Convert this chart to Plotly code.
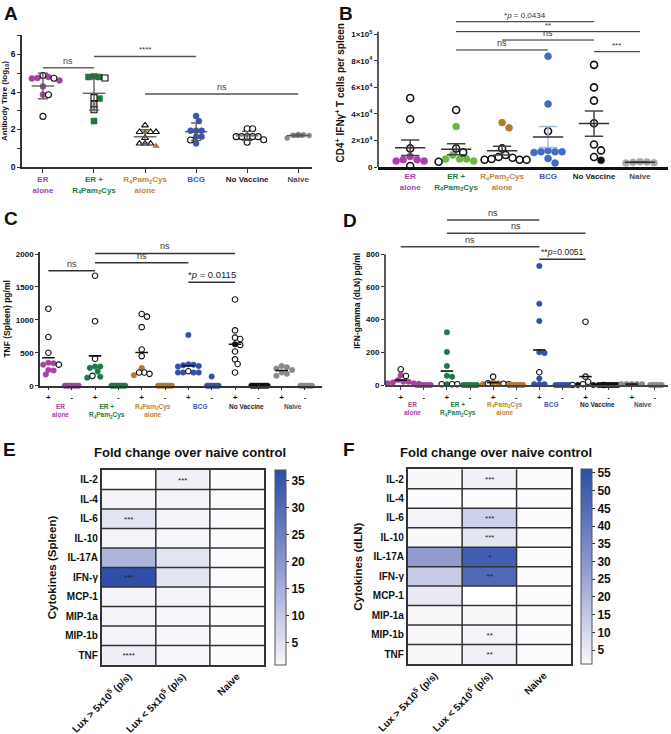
import numpy as np
import plotly.graph_objects as go

W, H = 671, 734
FONT = "Arial, 'Liberation Sans', Helvetica, sans-serif"

# ----------------------------- data -----------------------------
group_labels = [
    "ER<br>alone",
    "ER +<br>R<sub>4</sub>Pam<sub>2</sub>Cys",
    "R<sub>4</sub>Pam<sub>2</sub>Cys<br>alone",
    "BCG",
    "No Vaccine",
    "Naive",
]
group_colors = ["#a4449f", "#1f7b43", "#bb853c", "#3b57ae", "#1a1a1a", "#4d4d4d"]

# Panel A : antibody titre (log10), mean +/- SD
a_filled = [
    [4.80, 4.72, 4.75, 4.62, 4.30, 3.85],
    [4.80, 4.80, 4.83, 3.65, 2.45],
    [1.87, 1.12],
    [2.72, 2.45, 1.94, 1.94, 1.94, 1.62, 1.62, 1.26],
    [],
    [1.72, 1.70, 1.74, 1.68, 1.55],
]
a_open = [
    [4.73, 4.88, 3.85, 2.70],
    [4.75, 3.70],
    [2.22, 1.87, 1.87, 1.87, 1.55, 1.25, 1.25, 1.25],
    [1.44],
    [2.04, 2.04, 1.62, 1.62, 1.62, 1.62, 1.62, 1.45, 1.32],
    [],
]
a_grey = [[], [3.35, 3.05], [], [], [], []]
a_fill_colors = ["#a4449f", "#1a7a3e", "#b07a2a", "#3b55ad", "#1a1a1a", "#8c8c8c"]
a_symbols = ["circle", "square", "triangle-up", "circle", "circle", "circle"]

# Panel B : CD4+ IFNg+ T cells per spleen, mean +/- SEM
b_filled = [
    [8000, 5500, 5500, 4500, 4500],
    [30500, 9000, 6000, 6000, 6000, 4500],
    [33500, 29500],
    [83500, 47500, 12500, 11500, 11500, 11500, 11000, 6500, 3000],
    [5000],
    [3800, 3500, 3000, 4000, 3200],
]
b_open = [
    [52000, 36000, 14000, 700],
    [43000, 14000, 11000, 4000],
    [14000, 9000, 7500, 7000, 5500, 5500, 5500, 6000],
    [27000],
    [77000, 60000, 50000, 33000, 17000, 12500, 7500],
    [],
]
b_fill_colors = ["#b03ca8", "#6db545", "#b5792c", "#3f6cc4", "#111111", "#ababab"]
b_ytickvals = [0, 20000, 40000, 60000, 80000, 100000]
b_yticktext = ["0", "2×10<sup>4</sup>", "4×10<sup>4</sup>", "6×10<sup>4</sup>",
               "8×10<sup>4</sup>", "1×10<sup>5</sup>"]

# Panel C : TNF (spleen) pg/ml, stimulated (+) / unstimulated (-), mean line
c_pos_filled = [
    [350, 340, 280, 320, 230, 240, 170],
    [290, 290, 270, 215, 137, 122],
    [270, 160],
    [770, 325, 320, 310, 300, 290, 200, 200, 200, 200],
    [630],
    [300, 280, 260, 240, 200, 180, 150],
]
c_pos_open = [
    [1170, 740, 500, 320],
    [1670, 980, 410, 150],
    [1090, 1050, 890, 550, 450, 200, 200, 180],
    [220],
    [1310, 840, 730, 710, 620, 520, 400, 330, 200],
    [],
]
c_neg_filled = [
    [0, 0, 0, 0, 0, 0, 0],
    [0, 0, 0, 0, 0, 0, 0],
    [0, 0, 0, 0, 0, 0, 0],
    [140, 0, 0, 0, 0, 0, 0],
    [0, 0, 0, 0, 0, 0, 0, 0],
    [0, 0, 0, 0, 0, 0],
]

# Panel D : IFN-gamma (dLN) pg/ml
d_pos_filled = [
    [60, 30, 20, 20, 15, 10, 10, 8, 5],
    [322, 202, 116, 57, 50, 5],
    [15, 10, 5],
    [728, 497, 391, 200, 195, 39, 5, 5, 5],
    [0, 0, 0],
    [6, 5, 6, 5, 6],
]
d_pos_open = [
    [96, 55],
    [5, 5, 5],
    [51, 10, 8, 5],
    [78],
    [387, 51, 20, 5, 0, 0],
    [],
]
d_neg_filled = [
    [0, 0, 0, 0, 0, 0, 0],
    [0, 0, 0, 0, 0, 0, 0],
    [0, 0, 0, 0, 0, 0, 0],
    [0, 0, 0, 0, 0, 0, 0],
    [0, 0, 0, 0, 0, 0, 0, 0],
    [0, 0, 0, 0, 0, 0],
]
cd_fill_colors = ["#a4449f", "#1b7a45", "#b5792c", "#3550aa", "#111111", "#8a8a8a"]

# Panels E / F : fold change heatmaps
cytokines = ["IL-2", "IL-4", "IL-6", "IL-10", "IL-17A", "IFN-γ", "MCP-1", "MIP-1a", "MIP-1b", "TNF"]
lux_groups = ["Lux > 5x10<sup>5</sup> (p/s)", "Lux < 5x10<sup>5</sup> (p/s)", "Naive"]
e_lux_high = [0.8, 1.6, 4.5, 1.5, 13.5, 36.5, 1.5, 1.5, 1.5, 2.5]
e_lux_low = [2.0, 1.5, 1.5, 1.2, 4.5, 4.5, 1.3, 1.2, 1.2, 1.2]
e_naive = [1.0, 1.0, 1.0, 1.0, 1.0, 1.0, 1.0, 1.0, 1.0, 1.0]
e_stars_high = ["", "", "***", "", "", "***", "", "", "", "****"]
e_stars_low = ["***", "", "", "", "", "", "", "", "", ""]
f_lux_high = [1.5, 1.2, 2.0, 1.5, 28.0, 14.0, 5.0, 1.5, 1.5, 1.5]
f_lux_low = [3.0, 1.2, 12.0, 6.0, 50.0, 46.0, 1.0, 1.5, 2.0, 3.0]
f_naive = [1.2, 1.2, 1.2, 1.2, 1.2, 1.2, 1.2, 1.2, 1.2, 1.2]
f_stars_low = ["***", "", "***", "***", "*", "**", "", "", "**", "**"]
e_cbar_ticks = [5, 10, 15, 20, 25, 30, 35]
f_cbar_ticks = [5, 10, 15, 20, 25, 30, 35, 40, 45, 50, 55]

# ----------------------------- geometry -----------------------------
P = {
    "A": dict(n=1, xpx=(22, 312), ypx=(35, 167), xr=(-0.41, 5.27), yr=(0, 7.04)),
    "B": dict(n=2, xpx=(378, 668), ypx=(18.4, 167), xr=(-0.70, 5.61), yr=(0, 112000)),
    "C": dict(n=3, xpx=(40, 322), ypx=(252.1, 385.7), xr=(-0.36, 11.73), yr=(0, 2030)),
    "D": dict(n=4, xpx=(385, 668), ypx=(216.6, 385), xr=(-0.68, 11.57), yr=(0, 1030)),
    "E": dict(n=5, xpx=(101.7, 264), ypx=(470, 665), xr=(-0.5, 2.5), yr=(9.5, -0.5)),
    "F": dict(n=6, xpx=(407.7, 571), ypx=(469.3, 664), xr=(-0.5, 2.5), yr=(9.5, -0.5)),
}
for k, p in P.items():
    s = "" if p["n"] == 1 else str(p["n"])
    p["xa"], p["ya"] = "x" + s, "y" + s
    p["ppx"] = (p["xpx"][1] - p["xpx"][0]) / (p["xr"][1] - p["xr"][0])
    p["ppy"] = (p["ypx"][1] - p["ypx"][0]) / abs(p["yr"][1] - p["yr"][0])


def paper_y(p, v):
    py = p["ypx"][1] - (v - p["yr"][0]) * p["ppy"]
    return 1 - py / H


def swarm(values, ppy, dmin, step):
    order = sorted(range(len(values)), key=lambda i: -values[i])
    placed, offs = [], [0.0] * len(values)
    for i in order:
        y = values[i] * ppy
        k = 0
        while True:
            cands = [0.0] if k == 0 else [k * step, -k * step]
            ok = None
            for c in cands:
                if all((c - a) ** 2 + (y - b) ** 2 >= dmin ** 2 - 1e-9 for a, b in placed):
                    ok = c
                    break
            if ok is not None:
                break
            k += 1
        offs[i] = ok
        placed.append((ok, y))
    return offs


def colored(label, color):
    return "<br>".join(f"<span style='color:{color}'>{part}</span>" for part in label.split("<br>"))


fig = go.Figure()


def add_points(p, center, sets, size, dmin, step):
    vals = [v for s in sets for v in s[0]]
    if not vals:
        return
    offs = swarm(vals, p["ppy"], dmin, step)
    idx = 0
    for values, fillc, linec, sym, lw in sets:
        n = len(values)
        if n:
            xs = [center + o / p["ppx"] for o in offs[idx:idx + n]]
            fig.add_trace(go.Scatter(
                x=xs, y=list(values), mode="markers", xaxis=p["xa"], yaxis=p["ya"],
                cliponaxis=False, showlegend=False, hoverinfo="skip",
                marker=dict(size=size, color=fillc, symbol=sym,
                            line=dict(color=linec, width=lw))))
        idx += n


def add_errbar(p, center, vals, kind, half_w, cap_w, color, mean_color, lw=1.5):
    v = np.array(vals, dtype=float)
    m = v.mean()
    if kind == "sd":
        e = v.std(ddof=1)
    elif kind == "sem":
        e = v.std(ddof=1) / np.sqrt(len(v))
    else:
        e = None
    if e is not None:
        fig.add_trace(go.Scatter(
            x=[center, center, None, center - cap_w, center + cap_w, None, center - cap_w, center + cap_w],
            y=[m - e, m + e, None, m + e, m + e, None, m - e, m - e],
            mode="lines", line=dict(color=color, width=lw), xaxis=p["xa"], yaxis=p["ya"],
            showlegend=False, hoverinfo="skip"))
    fig.add_trace(go.Scatter(
        x=[center - half_w, center + half_w], y=[m, m], mode="lines",
        line=dict(color=mean_color, width=lw), xaxis=p["xa"], yaxis=p["ya"],
        showlegend=False, hoverinfo="skip"))


def bracket(p, x0, x1, y, text, color, lw, fsize, tcolor="#333", gap=0):
    fig.add_shape(type="line", xref=p["xa"], yref=p["ya"], x0=x0, x1=x1, y0=y, y1=y,
                  line=dict(color=color, width=lw))
    fig.add_annotation(xref=p["xa"], yref=p["ya"], x=(x0 + x1) / 2, y=y, text=text,
                       showarrow=False, xanchor="center", yanchor="bottom", yshift=gap,
                       font=dict(family=FONT, size=fsize, color=tcolor))


# ----------------------------- panel A -----------------------------
pA = P["A"]
for g in range(6):
    sym = a_symbols[g]
    sets = [
        (a_filled[g], a_fill_colors[g], a_fill_colors[g], sym, 0.5),
        (a_open[g], "white", "#111", sym, 1.1),
        (a_grey[g], "#bdbdbd", "#111", sym, 1.1),
    ]
    sz = 5 if g == 5 else 6
    add_points(pA, g, sets, sz, 5.5, 2.75)
    add_errbar(pA, g, a_filled[g] + a_open[g] + a_grey[g], "sd", 0.22, 0.1, "#555", "#555", 1.3)

bracket(pA, 0, 1, 5.30, "ns", "#666", 1.5, 9, "#444")
bracket(pA, 1, 3, 5.90, "****", "#555", 1.5, 8, "#333")
bracket(pA, 2, 5, 3.90, "ns", "#555", 1.5, 9, "#444")

# ----------------------------- panel B -----------------------------
pB = P["B"]
for g in range(6):
    sets = [
        (b_filled[g], b_fill_colors[g], b_fill_colors[g], "circle", 0.5),
        (b_open[g], "white", "#111", "circle", 1.6),
    ]
    add_points(pB, g, sets, 7, 7, 3.5)
    ecol = "#a9b8df" if g == 3 else "#444"
    add_errbar(pB, g, b_filled[g] + b_open[g], "sem", 0.33, 0.2, ecol, "#333", 1.5)

bracket(pB, 1, 4, 109500, "*<i>p</i> = 0.0434", "#222", 1, 8)
bracket(pB, 1, 5, 102000, "**", "#222", 1, 8)
bracket(pB, 2, 4, 95700, "ns", "#222", 1, 9)
bracket(pB, 1, 3, 88200, "ns", "#222", 1, 9)
bracket(pB, 4, 5, 86900, "***", "#222", 1, 8)

# ----------------------------- panels C & D -----------------------------
for key, pos_f, pos_o, neg_f in (("C", c_pos_filled, c_pos_open, c_neg_filled),
                                  ("D", d_pos_filled, d_pos_open, d_neg_filled)):
    p = P[key]
    for g in range(6):
        col = cd_fill_colors[g]
        sets = [(pos_f[g], col, col, "circle", 0.5),
                (pos_o[g], "white", "#111", "circle", 1.1)]
        add_points(p, 2 * g, sets, 5.5, 5.2, 2.6)
        add_errbar(p, 2 * g, pos_f[g] + pos_o[g], "mean", 0.27, 0, "#111", "#111", 1.6)
        add_points(p, 2 * g + 1, [(neg_f[g], col, col, "circle", 0.5)], 5.5, 2.3, 2.3)

pC, pD = P["C"], P["D"]
bracket(pC, 0, 2, 1745, "ns", "#333", 1.5, 9)
bracket(pC, 2, 6, 1870, "ns", "#333", 1.5, 9)
bracket(pC, 2, 8, 2010, "ns", "#333", 1.5, 9)
bracket(pC, 6, 8, 1570, "*<i>p</i> = 0.0115", "#333", 1.5, 9.5, "#222")

bracket(pD, 2, 6, 1009, "ns", "#444", 1.5, 9)
bracket(pD, 2, 8, 928, "ns", "#444", 1.5, 9)
bracket(pD, 0, 6, 846, "ns", "#444", 1.5, 9)
bracket(pD, 6, 8, 769, "**<i>p</i>=0.0051", "#333", 1.5, 8.5, "#222")

# ----------------------------- panels E & F -----------------------------
scale = [[0.0, "#ffffff"], [0.015, "#f4f4f9"], [0.5, "#8f99cf"], [1.0, "#2c4da7"]]
e_z = [[e_lux_high[i], e_lux_low[i], e_naive[i]] for i in range(len(cytokines))]
e_t = [[e_stars_high[i], e_stars_low[i], ""] for i in range(len(cytokines))]
f_z = [[f_lux_high[i], f_lux_low[i], f_naive[i]] for i in range(len(cytokines))]
f_t = [["", f_stars_low[i], ""] for i in range(len(cytokines))]

for key, z, t, zmin, zmax, cx, ticks in (("E", e_z, e_t, 0.8, 37, 275, e_cbar_ticks),
                                           ("F", f_z, f_t, 1.0, 56, 581, f_cbar_ticks)):
    p = P[key]
    fig.add_trace(go.Heatmap(
        z=z, x=[0, 1, 2], y=list(range(len(cytokines))), text=t, texttemplate="%{text}",
        textfont=dict(family=FONT, size=8, color="#222"),
        colorscale=scale, zmin=zmin, zmax=zmax, xaxis=p["xa"], yaxis=p["ya"],
        hoverinfo="skip",
        colorbar=dict(x=cx / W, xanchor="left", xpad=0, y=1 - p["ypx"][0] / H, yanchor="top",
                      ypad=0, len=(p["ypx"][1] - p["ypx"][0]) / H, lenmode="fraction",
                      thickness=11, thicknessmode="pixels", outlinewidth=1, outlinecolor="#555",
                      tickvals=ticks, ticks="outside", ticklen=3, tickcolor="#333",
                      tickfont=dict(family=FONT, size=12, color="#111", weight="bold"))))
    sx = p["xa"] + " domain"
    sy = p["ya"] + " domain"
    for k in (1, 2):
        fig.add_shape(type="line", xref=sx, yref=sy, x0=k / 3, x1=k / 3, y0=0, y1=1,
                      line=dict(color="#333", width=1.5))
    for k in range(1, len(cytokines)):
        fig.add_shape(type="line", xref=sx, yref=sy, x0=0, x1=1, y0=k / len(cytokines),
                      y1=k / len(cytokines), line=dict(color="#333", width=1.5))

# ----------------------------- layout -----------------------------
layout = dict(width=W, height=H, margin=dict(l=0, r=0, t=0, b=0, autoexpand=False), autosize=False,
              paper_bgcolor="white", plot_bgcolor="white", showlegend=False,
              font=dict(family=FONT, color="#111"))

tick_font = lambda s: dict(family=FONT, size=s, color="#111", weight="bold")


def base_axes(p):
    s = "" if p["n"] == 1 else str(p["n"])
    xa = dict(domain=[p["xpx"][0] / W, p["xpx"][1] / W], range=list(p["xr"]),
              anchor="y" + s, showgrid=False, zeroline=False, automargin=False)
    ya = dict(domain=[1 - p["ypx"][1] / H, 1 - p["ypx"][0] / H], range=list(p["yr"]),
              anchor="x" + s, showgrid=False, zeroline=False, automargin=False)
    return "xaxis" + s, xa, "yaxis" + s, ya


# A
kx, xa, ky, ya = base_axes(pA)
xa.update(tickvals=list(range(6)), ticktext=[colored(l, c) for l, c in zip(group_labels, group_colors)],
          showline=True, linecolor="#333", linewidth=1.5, ticks="outside", ticklen=4,
          tickcolor="#333", tickfont=tick_font(8), tickangle=0)
ya.update(tickvals=list(range(8)), ticktext=["0", "", "2", "", "4", "", "6", ""],
          showline=True, linecolor="#333", linewidth=1.5, ticks="outside", ticklen=3,
          tickcolor="#333", tickfont=tick_font(8.5),
          title=dict(text="Antibody Titre (log<sub>10</sub>)", standoff=4,
                     font=dict(family=FONT, size=8, color="#111", weight="bold")))
layout[kx], layout[ky] = xa, ya

# B
kx, xa, ky, ya = base_axes(pB)
xa.update(tickvals=list(range(6)), ticktext=[colored(l, c) for l, c in zip(group_labels, group_colors)],
          showline=True, linecolor="#111", linewidth=2.5, ticks="", tickfont=tick_font(8),
          tickangle=0)
ya.update(tickvals=b_ytickvals, ticktext=b_yticktext, showline=False, ticks="outside",
          ticklen=3, tickcolor="#333", tickfont=tick_font(8),
          title=dict(text="CD4<sup>+</sup> IFNγ<sup>+</sup> T cells per spleen", standoff=4,
                     font=dict(family=FONT, size=10, color="#111", weight="bold")))
layout[kx], layout[ky] = xa, ya

pm_text = []
for g in range(6):
    pm_text += ["+", "-"]

# C
kx, xa, ky, ya = base_axes(pC)
xa.update(tickvals=list(range(12)), ticktext=pm_text, showline=True, linecolor="#333",
          linewidth=1.5, ticks="outside", ticklen=3, tickcolor="#333", tickfont=tick_font(8),
          tickangle=0)
ya.update(tickvals=[0, 500, 1000, 1500, 2000], showline=True, linecolor="#333", linewidth=1.5,
          ticks="outside", ticklen=3, tickcolor="#333", tickfont=tick_font(8),
          title=dict(text="TNF (Spleen) pg/ml", standoff=4,
                     font=dict(family=FONT, size=8.5, color="#111", weight="bold")))
layout[kx], layout[ky] = xa, ya

# D
kx, xa, ky, ya = base_axes(pD)
xa.update(tickvals=list(range(12)), ticktext=pm_text, showline=True, linecolor="#444",
          linewidth=2, ticks="outside", ticklen=3, tickcolor="#444", tickfont=tick_font(8),
          tickangle=0)
ya.update(tickvals=[0, 200, 400, 600, 800], showline=False, ticks="outside", ticklen=3,
          tickcolor="#333", tickfont=tick_font(8),
          title=dict(text="IFN-gamma (dLN) pg/ml", standoff=4,
                     font=dict(family=FONT, size=8.5, color="#111", weight="bold")))
layout[kx], layout[ky] = xa, ya

# E / F
for key, ytitle in (("E", "Cytokines (Spleen)"), ("F", "Cytokines (dLN)")):
    p = P[key]
    kx, xa, ky, ya = base_axes(p)
    xa.update(tickvals=[0, 1, 2], ticktext=lux_groups, tickangle=-45, showline=True, mirror=True,
              linecolor="#333", linewidth=1.5, ticks="", tickfont=tick_font(10))
    ya.update(tickvals=list(range(len(cytokines))), ticktext=cytokines, showline=True, mirror=True,
              linecolor="#333", linewidth=1.5, ticks="", tickfont=tick_font(10),
              title=dict(text=ytitle, standoff=6,
                         font=dict(family=FONT, size=11.5, color="#111", weight="bold")))
    layout[kx], layout[ky] = xa, ya

fig.update_layout(**layout)

# y axis lines that stop at the last tick (B and D)
for p, top in ((pB, 102000), (pD, 800)):
    fig.add_shape(type="line", xref="paper", yref="paper", x0=p["xpx"][0] / W, x1=p["xpx"][0] / W,
                  y0=paper_y(p, 0), y1=paper_y(p, top), line=dict(color="#222", width=1.5))

# group labels under the +/- ticks of C and D
for p, ytop in ((pC, 400.5), (pD, 398.5)):
    for g in range(6):
        fig.add_annotation(xref=p["xa"], yref="paper", x=2 * g + 0.5, y=1 - ytop / H,
                           text=colored(group_labels[g], group_colors[g]), showarrow=False,
                           xanchor="center", yanchor="top",
                           font=dict(family=FONT, size=6.5, weight="bold"))

# heatmap titles
for cx, cy in ((190, 453), (496, 452)):
    fig.add_annotation(xref="paper", yref="paper", x=cx / W, y=1 - cy / H,
                       text="Fold change over naive control", showarrow=False,
                       xanchor="center", yanchor="middle",
                       font=dict(family=FONT, size=13, color="#111", weight="bold"))

# panel letters
for letter, lx, ly in (("A", 2, 1), ("B", 337, 1), ("C", 2, 206), ("D", 341, 208),
                       ("E", 1, 437), ("F", 341, 437)):
    fig.add_annotation(xref="paper", yref="paper", x=lx / W, y=1 - ly / H, text=letter,
                       showarrow=False, xanchor="left", yanchor="top",
                       font=dict(family=FONT, size=19, color="#111", weight="bold"))

fig.write_html("out.html", config={"displayModeBar": False},
               post_script="document.body.style.margin='0px';document.body.style.overflow='hidden';")
